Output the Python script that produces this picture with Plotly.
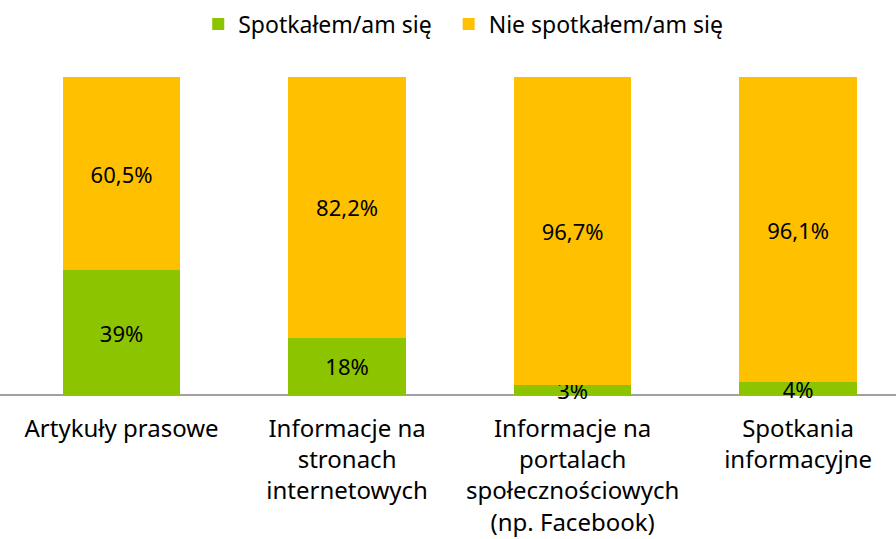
import plotly.graph_objects as go

categories = [
    "Artykuły prasowe",
    "Informacje na<br>stronach<br>internetowych",
    "Informacje na<br>portalach<br>społecznościowych<br>(np. Facebook)",
    "Spotkania<br>informacyjne",
]
met = [39, 18, 3, 4]
met_labels = ["39%", "18%", "3%", "4%"]
not_met = [60.5, 82.2, 96.7, 96.1]
not_met_labels = ["60,5%", "82,2%", "96,7%", "96,1%"]
series_names = ["Spotkałem/am się\u00a0\u00a0", "Nie spotkałem/am się"]

FONT = "Noto Sans"

fig = go.Figure()
fig.add_trace(go.Bar(
    x=categories, y=met, name=series_names[0],
    text=met_labels, textposition="inside", insidetextanchor="middle",
    constraintext="none",
    marker=dict(color="#8CC400", line=dict(width=0)),
    textfont=dict(family=FONT, size=22, color="#000000"),
    width=0.52,
))
fig.add_trace(go.Bar(
    x=categories, y=not_met, name=series_names[1],
    text=not_met_labels, textposition="inside", insidetextanchor="middle",
    constraintext="none",
    marker=dict(color="#FFC000", line=dict(width=0)),
    textfont=dict(family=FONT, size=22, color="#000000"),
    width=0.52,
))

fig.update_layout(
    barmode="stack",
    barnorm="percent",
    width=896, height=539,
    margin=dict(l=0, r=0, t=77, b=131, autoexpand=False),
    paper_bgcolor="white", plot_bgcolor="white",
    font=dict(family=FONT, size=22, color="#000000"),
    uniformtext=dict(mode="show", minsize=22),
    showlegend=True,
    legend=dict(orientation="h", x=0.517, xanchor="center",
                yref="container", y=1 - 24 / 539, yanchor="middle",
                font=dict(family=FONT, size=23), traceorder="normal",
                itemwidth=30),
    xaxis=dict(range=[-0.539, 3.434], showgrid=False, showline=False,
               ticks="", automargin=False,
               tickfont=dict(family=FONT, size=24), ticklabelstandoff=4),
    yaxis=dict(range=[-4.1, 100], showgrid=False, showticklabels=False,
               ticks="", showline=False, zeroline=True,
               zerolinecolor="#A0A0A0", zerolinewidth=1.5),
)

fig.write_html("out.html", config={"displayModeBar": False},
               post_script="document.body.style.margin='0px';document.body.style.overflow='hidden';")
